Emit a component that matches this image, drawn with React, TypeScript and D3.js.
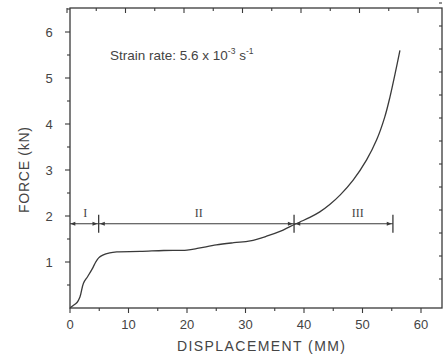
import React from "react";
import * as d3 from "d3";

const curveX = [0, 0.5, 1.2, 1.7, 2.3, 3.0, 3.8, 4.4, 4.9, 5.6, 6.8, 8, 12, 16, 20, 22, 25, 28, 30.8, 33.6, 36, 37.6, 39.3, 41, 42.7, 44.4, 46.2, 48.4, 50.7, 52.4, 53.8, 54.7, 55.6, 56.4];
const curveY = [0, 0.05, 0.12, 0.24, 0.54, 0.68, 0.85, 1.0, 1.09, 1.15, 1.2, 1.22, 1.23, 1.25, 1.26, 1.3, 1.37, 1.42, 1.46, 1.56, 1.67, 1.77, 1.87, 1.97, 2.09, 2.25, 2.46, 2.78, 3.22, 3.65, 4.15, 4.59, 5.11, 5.6];

const xTicks = [0, 10, 20, 30, 40, 50, 60];
const yTicks = [1, 2, 3, 4, 5, 6];
const regionBounds = [0, 4.9, 38.3, 55.2];
const regionLabels = ["I", "II", "III"];
const regionLabelX = [2.6, 22, 49.2];
const regionLevel = 1.83;

const W = 443, H = 354;
const L = 70, R = 442, T = 8, B = 308;

export default function App() {
  const x = d3.scaleLinear().domain([0, 60]).range([70, 421]);
  const y = d3.scaleLinear().domain([0, 6]).range([308, 32]);
  const line = d3.line<number>().x((_, i) => x(curveX[i])).y((_, i) => y(curveY[i])).curve(d3.curveCatmullRom.alpha(0.5));
  const ink = "#3a3a3a";
  const font = "Liberation Sans, Arial, sans-serif";
  const minorX = d3.range(0, 65, 5);
  const minorY = d3.range(0.5, 6.6, 0.5);
  const ly = y(regionLevel);
  const arrow = (x0: number, dir: number) => {
    const px = x(x0);
    return `M${px},${ly} L${px - dir * 5},${ly - 2} L${px - dir * 5},${ly + 2} Z`;
  };
  return (
    <svg width={W} height={H} style={{ position: "absolute", left: 0, top: 0, background: "#fff" }}>
      <rect x={L} y={T} width={R - L} height={B - T} fill="none" stroke={ink} strokeWidth={1.3} />
      {minorX.filter(v => x(v) < R).map(v => (
        <g key={"xt" + v}>
          <line x1={x(v)} x2={x(v)} y1={B} y2={B + (v % 10 === 0 ? 5 : 3)} stroke={ink} strokeWidth={1.1} />
          <line x1={x(v) - 3} x2={x(v) - 3} y1={T} y2={T + (v % 10 === 0 ? 5 : 3)} stroke={ink} strokeWidth={1.1} />
        </g>
      ))}
      {minorY.filter(v => y(v) > T).map(v => (
        <g key={"yt" + v}>
          <line x1={L} x2={L - (Number.isInteger(v) ? 5 : 3)} y1={y(v)} y2={y(v)} stroke={ink} strokeWidth={1.1} />
          <line x1={R} x2={R - 3} y1={y(v) - 6} y2={y(v) - 6} stroke={ink} strokeWidth={1.1} />
        </g>
      ))}
      {xTicks.map(v => (
        <text key={"xl" + v} x={x(v)} y={B + 21} textAnchor="middle" fontFamily={font} fontSize={13} fill="#444">{v}</text>
      ))}
      {yTicks.map(v => (
        <text key={"yl" + v} x={L - 21} y={y(v) + 4.5} textAnchor="middle" fontFamily={font} fontSize={13} fill="#444">{v}</text>
      ))}
      <text x={261} y={351} textAnchor="middle" fontFamily={font} fontSize={14} fill="#444" textLength={168} lengthAdjust="spacing">DISPLACEMENT (MM)</text>
      <text transform={`translate(29,170) rotate(-90)`} textAnchor="middle" fontFamily={font} fontSize={14} fill="#444" textLength={86} lengthAdjust="spacing">FORCE (kN)</text>
      <text x={110} y={60} fontFamily={font} fontSize={13.5} fill="#444">
        Strain rate: 5.6 x 10<tspan dy={-6} fontSize={8.5}>-3</tspan><tspan dy={6}> s</tspan><tspan dy={-6} fontSize={8.5}>-1</tspan>
      </text>
      <path d={line(curveX) || ""} fill="none" stroke={ink} strokeWidth={1.3} />
      <line x1={x(regionBounds[0])} x2={x(regionBounds[3])} y1={ly} y2={ly} stroke={ink} strokeWidth={1.1} />
      {regionBounds.slice(1).map(v => (
        <line key={"rb" + v} x1={x(v)} x2={x(v)} y1={ly - 9} y2={ly + 9} stroke={ink} strokeWidth={1.3} />
      ))}
      {regionLabels.map((lab, i) => (
        <g key={"rg" + i}>
          <path d={arrow(regionBounds[i] + (i === 0 ? 0.05 : 0.2), -1)} fill={ink} />
          <path d={arrow(regionBounds[i + 1] - 0.2, 1)} fill={ink} />
          <text x={x(regionLabelX[i])} y={ly - 7} textAnchor="middle" fontFamily="Liberation Serif, Times New Roman, serif" fontSize={12} fill="#444">{lab}</text>
        </g>
      ))}
    </svg>
  );
}
